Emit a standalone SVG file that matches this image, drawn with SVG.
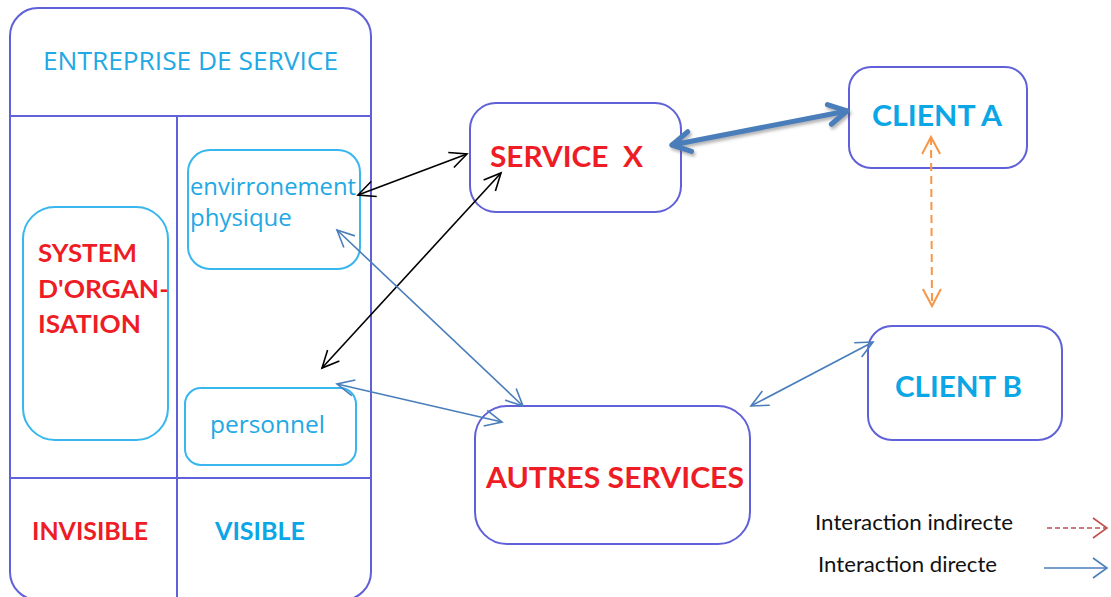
<svg xmlns="http://www.w3.org/2000/svg" width="1111" height="597" viewBox="0 0 1111 597">
  <defs>
    <style>
      .frame { fill: none; stroke: #6060d8; stroke-width: 2; }
      .sub { fill: none; stroke: #38b6ee; stroke-width: 2; }
      .lbl-light { font-family: "Open Sans", "DejaVu Sans", sans-serif; fill: #22a8e4; }
      .lbl-bold { font-family: Lato, "Liberation Sans", sans-serif; font-weight: bold; }
      .red { fill: #ee1c25; }
      .cyan { fill: #0aa6e6; }
      .legend { font-family: Lato, "Liberation Sans", sans-serif; font-size: 21px; fill: #111; }
      .c-black { fill: none; stroke: #000; stroke-width: 1.6; }
      .c-blue { fill: none; stroke: #4a7ebb; stroke-width: 1.6; }
      .c-thick { fill: none; stroke: #4a7ebb; stroke-width: 5; stroke-linecap: round; }
      .c-orange { fill: none; stroke: #f79646; stroke-width: 2; stroke-dasharray: 8 5; }
      .c-red { fill: none; stroke: #c0504d; stroke-width: 1.6; stroke-dasharray: 5 3; }
    </style>
    <marker id="ah-black" markerUnits="userSpaceOnUse" markerWidth="24" markerHeight="24" viewBox="-20 -12 24 24" refX="0" refY="0" orient="auto-start-reverse">
      <path d="M-17,-8 L0,0 L-17,8" fill="none" stroke="#000" stroke-width="1.6"/>
    </marker>
    <marker id="ah-blue" markerUnits="userSpaceOnUse" markerWidth="24" markerHeight="24" viewBox="-20 -12 24 24" refX="0" refY="0" orient="auto-start-reverse">
      <path d="M-17,-8 L0,0 L-17,8" fill="none" stroke="#4a7ebb" stroke-width="1.6"/>
    </marker>
    <marker id="ah-legend-blue" markerUnits="userSpaceOnUse" markerWidth="24" markerHeight="24" viewBox="-20 -12 24 24" refX="0" refY="0" orient="auto-start-reverse">
      <path d="M-14,-10 L0,0 L-14,10" fill="none" stroke="#4a7ebb" stroke-width="1.6"/>
    </marker>
    <marker id="ah-thick" markerUnits="userSpaceOnUse" markerWidth="30" markerHeight="30" viewBox="-25 -15 30 30" refX="0" refY="0" orient="auto-start-reverse">
      <path d="M-18,-10 L0,0 L-18,10" fill="none" stroke="#4a7ebb" stroke-width="5" stroke-linecap="round" stroke-linejoin="round"/>
    </marker>
    <marker id="ah-orange" markerUnits="userSpaceOnUse" markerWidth="24" markerHeight="24" viewBox="-20 -12 24 24" refX="0" refY="0" orient="auto-start-reverse">
      <path d="M-17,-9 L0,0 L-17,9" fill="none" stroke="#f79646" stroke-width="2"/>
    </marker>
    <marker id="ah-red" markerUnits="userSpaceOnUse" markerWidth="24" markerHeight="24" viewBox="-20 -12 24 24" refX="0" refY="0" orient="auto-start-reverse">
      <path d="M-14,-10 L0,0 L-14,10" fill="none" stroke="#c0504d" stroke-width="1.6"/>
    </marker>
    <filter id="shadow" x="-20%" y="-50%" width="140%" height="200%">
      <feDropShadow dx="1.5" dy="2.5" stdDeviation="1.5" flood-color="#555" flood-opacity="0.45"/>
    </filter>
  </defs>

  <rect width="1111" height="597" fill="#fff"/>

  <!-- service company frame with its grid -->
  <g id="entreprise">
    <rect class="frame" x="10" y="8" width="361" height="592" rx="28"/>
    <line class="frame" x1="10" y1="116" x2="371" y2="116"/>
    <line class="frame" x1="177" y1="116" x2="177" y2="600"/>
    <line class="frame" x1="10" y1="478" x2="371" y2="478"/>
    <text class="lbl-light" x="43" y="70" font-size="26" textLength="295" lengthAdjust="spacingAndGlyphs">ENTREPRISE DE SERVICE</text>
    <text class="lbl-bold red" x="32" y="540" font-size="24" textLength="116" lengthAdjust="spacingAndGlyphs">INVISIBLE</text>
    <text class="lbl-bold cyan" x="215" y="540" font-size="24" textLength="90" lengthAdjust="spacingAndGlyphs">VISIBLE</text>
  </g>

  <g id="systeme-organisation">
    <rect class="sub" x="23" y="207" width="145" height="233" rx="32"/>
    <text class="lbl-bold red" font-size="24">
      <tspan x="38" y="262" textLength="99" lengthAdjust="spacingAndGlyphs">SYSTEM</tspan>
      <tspan x="38" y="298" textLength="131" lengthAdjust="spacingAndGlyphs">D'ORGAN-</tspan>
      <tspan x="38" y="333" textLength="103" lengthAdjust="spacingAndGlyphs">ISATION</tspan>
    </text>
  </g>

  <g id="environnement-physique">
    <rect class="sub" x="188" y="150" width="172" height="119" rx="22"/>
    <text class="lbl-light" font-size="24">
      <tspan x="190" y="195" textLength="166" lengthAdjust="spacingAndGlyphs">envirronement</tspan>
      <tspan x="190" y="226">physique</tspan>
    </text>
  </g>

  <g id="personnel">
    <rect class="sub" x="185" y="388" width="171" height="77" rx="16"/>
    <text class="lbl-light" x="210" y="433" font-size="24" textLength="115" lengthAdjust="spacingAndGlyphs">personnel</text>
  </g>

  <g id="service-x">
    <rect class="frame" x="470" y="103" width="211" height="109" rx="26"/>
    <text class="lbl-bold red" x="490" y="167" font-size="29" xml:space="preserve" textLength="153" lengthAdjust="spacingAndGlyphs">SERVICE  X</text>
  </g>

  <g id="client-a">
    <rect class="frame" x="849" y="67" width="178" height="101" rx="22"/>
    <text class="lbl-bold cyan" x="872" y="126" font-size="29" textLength="130" lengthAdjust="spacingAndGlyphs">CLIENT A</text>
  </g>

  <g id="client-b">
    <rect class="frame" x="868" y="326" width="194" height="114" rx="24"/>
    <text class="lbl-bold cyan" x="895" y="397" font-size="29" textLength="127" lengthAdjust="spacingAndGlyphs">CLIENT B</text>
  </g>

  <g id="autres-services">
    <rect class="frame" x="475" y="406" width="275" height="138" rx="32"/>
    <text class="lbl-bold red" x="486" y="488" font-size="29" textLength="258" lengthAdjust="spacingAndGlyphs">AUTRES SERVICES</text>
  </g>

  <!-- interactions -->
  <g id="connectors">
    <line class="c-black" x1="358" y1="195" x2="467" y2="154" marker-start="url(#ah-black)" marker-end="url(#ah-black)"/>
    <line class="c-black" x1="322" y1="368" x2="501" y2="173" marker-start="url(#ah-black)" marker-end="url(#ah-black)"/>
    <line class="c-blue" x1="337" y1="230" x2="523" y2="406" marker-start="url(#ah-blue)" marker-end="url(#ah-blue)"/>
    <line class="c-blue" x1="337" y1="384" x2="502" y2="422" marker-start="url(#ah-blue)" marker-end="url(#ah-blue)"/>
    <line class="c-blue" x1="751" y1="406" x2="873" y2="342" marker-start="url(#ah-blue)" marker-end="url(#ah-blue)"/>
    <line class="c-thick" x1="672" y1="145" x2="847" y2="111" marker-start="url(#ah-thick)" marker-end="url(#ah-thick)" filter="url(#shadow)"/>
    <line class="c-orange" x1="931" y1="137" x2="932" y2="306" marker-start="url(#ah-orange)" marker-end="url(#ah-orange)"/>
  </g>

  <g id="legende">
    <text class="legend" x="815" y="530" textLength="198" lengthAdjust="spacingAndGlyphs">Interaction indirecte</text>
    <line class="c-red" x1="1047" y1="528" x2="1107" y2="528" marker-end="url(#ah-red)"/>
    <text class="legend" x="818" y="572" textLength="179" lengthAdjust="spacingAndGlyphs">Interaction directe</text>
    <line class="c-blue" x1="1044" y1="568" x2="1107" y2="568" marker-end="url(#ah-legend-blue)"/>
  </g>
</svg>
